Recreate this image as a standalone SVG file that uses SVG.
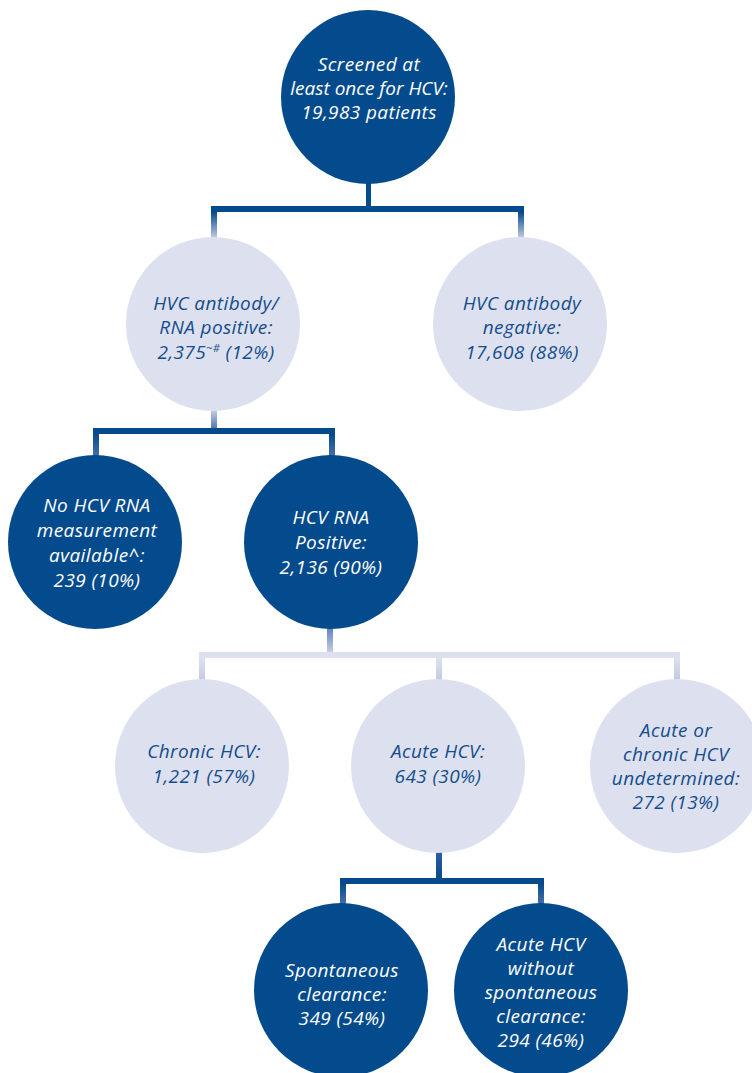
<svg xmlns="http://www.w3.org/2000/svg" width="752" height="1073" viewBox="0 0 752 1073">
<defs>
<linearGradient id="gDarkToLight" x1="0" y1="0" x2="0" y2="1"><stop offset="0" stop-color="#044b8d"/><stop offset="1" stop-color="#c3cce3"/></linearGradient>
<linearGradient id="gLightToMid" x1="0" y1="0" x2="0" y2="1"><stop offset="0" stop-color="#cdd4e8"/><stop offset="1" stop-color="#4f76b0"/></linearGradient>
<linearGradient id="gDarkToMid" x1="0" y1="0" x2="0" y2="1"><stop offset="0" stop-color="#044b8d"/><stop offset="1" stop-color="#4670ad"/></linearGradient>
<linearGradient id="gMidToLight" x1="0" y1="0" x2="0" y2="1"><stop offset="0" stop-color="#5f80b9"/><stop offset="1" stop-color="#c8cfe5"/></linearGradient>
<linearGradient id="gPale" x1="0" y1="0" x2="0" y2="1"><stop offset="0" stop-color="#dde1ef"/><stop offset="1" stop-color="#c2cae2"/></linearGradient>
<linearGradient id="gMidToDark" x1="0" y1="0" x2="0" y2="1"><stop offset="0" stop-color="#2f5e9f"/><stop offset="1" stop-color="#044b8d"/></linearGradient>
</defs>
<style>
.dark{fill:#044b8d}
.light{fill:#dde1ef}
text{font-family:"Open Sans","Liberation Sans",sans-serif;font-style:italic;font-size:19px;letter-spacing:0.4px;text-anchor:middle}
.tw{fill:#ffffff}
.tb{fill:#144d8c}
.tight{letter-spacing:0}
</style>
<g id="connectors">
<rect x="366" y="180" width="5" height="28" class="dark"/>
<rect x="211" y="206" width="313" height="6" class="dark"/>
<rect x="211" y="212" width="6" height="26" fill="url(#gDarkToLight)"/>
<rect x="518" y="212" width="6" height="26" fill="url(#gDarkToLight)"/>
<rect x="211" y="409" width="6" height="20" fill="url(#gLightToMid)"/>
<rect x="93" y="428" width="242" height="6" class="dark"/>
<rect x="93" y="434" width="6" height="22" fill="url(#gDarkToMid)"/>
<rect x="329" y="434" width="6" height="22" fill="url(#gDarkToMid)"/>
<rect x="327" y="627" width="6" height="26" fill="url(#gMidToLight)"/>
<rect x="199" y="652" width="481" height="6" class="light"/>
<rect x="199" y="658" width="6" height="22" fill="url(#gPale)"/>
<rect x="436" y="658" width="6" height="22" fill="url(#gPale)"/>
<rect x="674" y="658" width="6" height="22" fill="url(#gPale)"/>
<rect x="436" y="851" width="6" height="28" fill="url(#gMidToDark)"/>
<rect x="340" y="878" width="204" height="6" class="dark"/>
<rect x="340" y="884" width="6" height="20" fill="url(#gDarkToMid)"/>
<rect x="538" y="884" width="6" height="20" fill="url(#gDarkToMid)"/>
</g>
<g id="screened">
<circle cx="368" cy="97" r="87" class="dark"/>
<text class="tw" x="369" y="71">Screened at</text>
<text class="tw tight" x="369" y="95">least once for HCV:</text>
<text class="tw" x="369" y="119">19,983 patients</text>
</g>
<g id="ab-positive">
<circle cx="213" cy="324" r="87" class="light"/>
<text class="tb" x="216" y="310">HVC antibody/</text>
<text class="tb" x="216" y="334">RNA positive:</text>
<text class="tb" x="216" y="359">2,375<tspan font-size="11" dy="-7">~#</tspan><tspan dy="7"> (12%)</tspan></text>
</g>
<g id="ab-negative">
<circle cx="520" cy="324" r="87" class="light"/>
<text class="tb" x="522" y="310">HVC antibody</text>
<text class="tb" x="522" y="334">negative:</text>
<text class="tb" x="522" y="359">17,608 (88%)</text>
</g>
<g id="no-rna">
<circle cx="95" cy="542" r="87" class="dark"/>
<text class="tw" x="97" y="512">No HCV RNA</text>
<text class="tw" x="97" y="537">measurement</text>
<text class="tw" x="97" y="562">available^:</text>
<text class="tw" x="97" y="587">239 (10%)</text>
</g>
<g id="rna-positive">
<circle cx="331" cy="542" r="87" class="dark"/>
<text class="tw" x="331" y="524">HCV RNA</text>
<text class="tw" x="331" y="549">Positive:</text>
<text class="tw" x="331" y="574">2,136 (90%)</text>
</g>
<g id="chronic">
<circle cx="202" cy="766" r="87" class="light"/>
<text class="tb" x="204" y="758">Chronic HCV:</text>
<text class="tb" x="204" y="783">1,221 (57%)</text>
</g>
<g id="acute">
<circle cx="438" cy="766" r="87" class="light"/>
<text class="tb" x="438" y="758">Acute HCV:</text>
<text class="tb" x="438" y="783">643 (30%)</text>
</g>
<g id="undetermined">
<circle cx="677" cy="766" r="87" class="light"/>
<text class="tb" x="676" y="737">Acute or</text>
<text class="tb" x="676" y="761">chronic HCV</text>
<text class="tb" x="676" y="785">undetermined:</text>
<text class="tb" x="676" y="809">272 (13%)</text>
</g>
<g id="spontaneous">
<circle cx="341" cy="990" r="87" class="dark"/>
<text class="tw" x="342" y="977">Spontaneous</text>
<text class="tw" x="342" y="1001">clearance:</text>
<text class="tw" x="342" y="1025">349 (54%)</text>
</g>
<g id="no-spontaneous">
<circle cx="541" cy="990" r="87" class="dark"/>
<text class="tw" x="541" y="951">Acute HCV</text>
<text class="tw" x="541" y="975">without</text>
<text class="tw" x="541" y="999">spontaneous</text>
<text class="tw" x="541" y="1023">clearance:</text>
<text class="tw" x="541" y="1047">294 (46%)</text>
</g>
</svg>
